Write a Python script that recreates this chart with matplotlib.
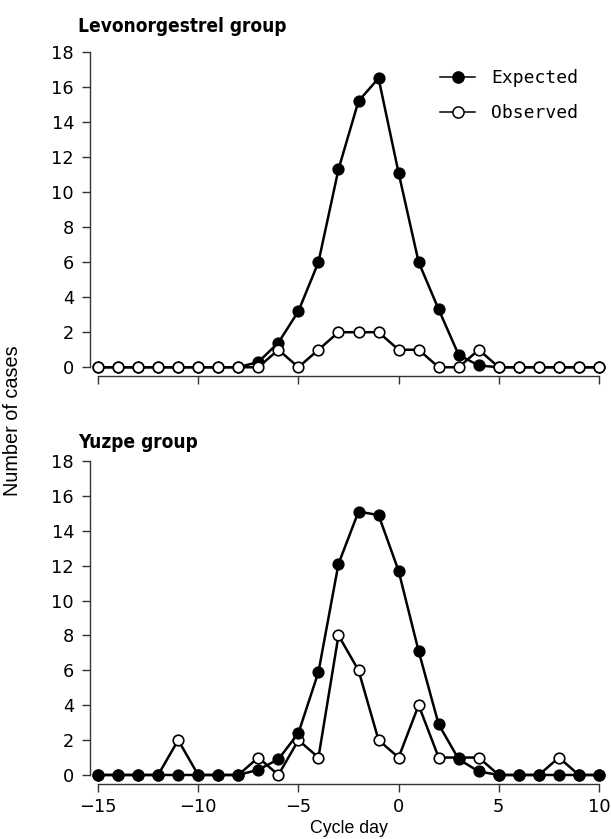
import matplotlib
matplotlib.use("Agg")
import matplotlib.pyplot as plt
from matplotlib.lines import Line2D

days = list(range(-15, 11))

levo_expected = [0, 0, 0, 0, 0, 0, 0, 0, 0.3, 1.4, 3.2, 6.0, 11.3, 15.2, 16.5,
                 11.1, 6.0, 3.3, 0.7, 0.1, 0, 0, 0, 0, 0, 0]
levo_observed = [0, 0, 0, 0, 0, 0, 0, 0, 0, 1, 0, 1, 2, 2, 2,
                 1, 1, 0, 0, 1, 0, 0, 0, 0, 0, 0]

yuzpe_expected = [0, 0, 0, 0, 0, 0, 0, 0, 0.3, 0.9, 2.4, 5.9, 12.1, 15.1, 14.9,
                  11.7, 7.1, 2.9, 0.9, 0.2, 0, 0, 0, 0, 0, 0]
yuzpe_observed = [0, 0, 0, 0, 2, 0, 0, 0, 1, 0, 2, 1, 8, 6, 2,
                  1, 4, 1, 1, 1, 0, 0, 0, 1, 0, 0]

yticks = list(range(0, 19, 2))
xticks = [-15, -10, -5, 0, 5, 10]

plt.rcParams['font.family'] = ['DejaVu Sans']

W, H = 611, 839
fig = plt.figure(figsize=(W / 100, H / 100), dpi=100)

ax1 = fig.add_axes([90 / W, (H - 376) / H, 517 / W, 327.5 / H])
ax2 = fig.add_axes([90 / W, (H - 783.7) / H, 517 / W, 326.2 / H])

lw = 1.8
ms = 7.6
mew = 1.2
axcol = '#333333'


def style(ax, show_xlabels):
    ax.set_xlim(-15.4, 10.4)
    ax.set_ylim(-0.5, 18.2)
    for s in ('top', 'right'):
        ax.spines[s].set_visible(False)
    ax.spines['left'].set_bounds(0, 18)
    ax.spines['bottom'].set_bounds(-15, 10)
    for s in ('left', 'bottom'):
        ax.spines[s].set_linewidth(1.0)
        ax.spines[s].set_color(axcol)
    ax.set_yticks(yticks)
    ax.set_xticks(xticks)
    ax.tick_params(axis='both', direction='out', length=5.5, width=1.0,
                   labelsize=12.8, color=axcol)
    ax.tick_params(axis='y', pad=6)
    ax.tick_params(axis='x', pad=4.5)
    if not show_xlabels:
        ax.tick_params(axis='x', labelbottom=False)


# Top panel
ax1.plot(days, levo_expected, color='black', lw=lw, marker='o', ms=ms,
         mfc='black', mec='black', mew=mew, zorder=3, clip_on=False)
ax1.plot(days, levo_observed, color='black', lw=lw, marker='o', ms=ms,
         mfc='white', mec='black', mew=mew, zorder=4, clip_on=False)
style(ax1, False)

# Bottom panel
ax2.plot(days, yuzpe_observed, color='black', lw=lw, marker='o', ms=ms,
         mfc='white', mec='black', mew=mew, zorder=3, clip_on=False)
ax2.plot(days, yuzpe_expected, color='black', lw=lw, marker='o', ms=ms,
         mfc='black', mec='black', mew=mew, zorder=4, clip_on=False)
style(ax2, True)

ax2.set_xlabel('Cycle day', fontsize=12.8, labelpad=3,
               family=['Liberation Sans', 'DejaVu Sans'])

title_font = ['Liberation Sans Narrow', 'DejaVu Sans']
fig.text(78 / W, 1 - 26 / H, 'Levonorgestrel group', fontsize=13.7,
         fontweight='bold', family=title_font, fontstretch='condensed',
         ha='left', va='center')
fig.text(78 / W, 1 - 443 / H, 'Yuzpe group', fontsize=13.7,
         fontweight='bold', family=title_font, fontstretch='condensed',
         ha='left', va='center')

fig.text(13 / W, 1 - 421 / H, 'Number of cases', fontsize=14.3,
         rotation=90, ha='center', va='center',
         family=['Liberation Sans', 'DejaVu Sans'])

handles = [
    Line2D([], [], color='black', lw=1.1, marker='o', ms=8, mfc='black',
           mec='black', mew=1.1),
    Line2D([], [], color='black', lw=1.1, marker='o', ms=8, mfc='white',
           mec='black', mew=1.1),
]
ax1.legend(handles, ['Expected', 'Observed'], loc='upper left',
           bbox_to_anchor=(440 / W, 1 - 69 / H),
           bbox_transform=fig.transFigure, frameon=False,
           prop={'family': 'DejaVu Sans Mono', 'size': 13},
           handlelength=1.95, handletextpad=0.9, labelspacing=0.95,
           borderaxespad=0, borderpad=0)

fig.savefig('out.png', dpi=100)
